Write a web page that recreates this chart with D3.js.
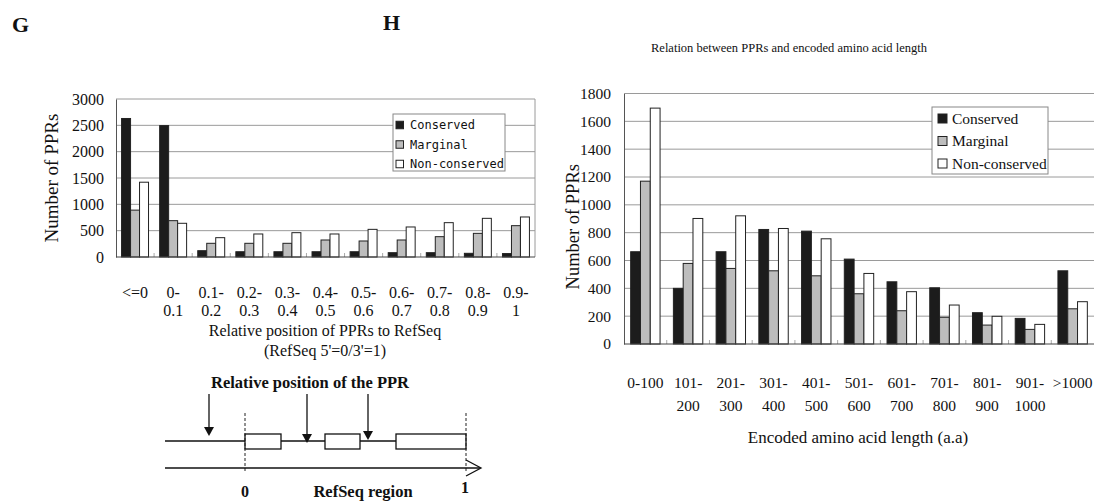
<!DOCTYPE html>
<html>
<head>
<meta charset="utf-8">
<script src="https://cdn.jsdelivr.net/npm/d3@7/dist/d3.min.js"></script>
<style>
  body { margin: 0; background: #fff; }
  svg { display: block; }
  text { font-family: "Liberation Serif", "Times New Roman", serif; fill: #111; }
</style>
</head>
<body>
<svg id="fig" width="1094" height="503"></svg>
<script>
// ---- data ----
var seriesNames = ["Conserved", "Marginal", "Non-conserved"];
var seriesFill = ["#1c1c1c", "#bdbdbd", "#ffffff"];

// panel G: relative position of PPRs
var catsG = ["<=0", "0-0.1", "0.1-0.2", "0.2-0.3", "0.3-0.4", "0.4-0.5", "0.5-0.6", "0.6-0.7", "0.7-0.8", "0.8-0.9", "0.9-1"];
var labelsG = [["<=0"], ["0-", "0.1"], ["0.1-", "0.2"], ["0.2-", "0.3"], ["0.3-", "0.4"], ["0.4-", "0.5"],
               ["0.5-", "0.6"], ["0.6-", "0.7"], ["0.7-", "0.8"], ["0.8-", "0.9"], ["0.9-", "1"]];
var conservedG    = [2630, 2495, 120, 100, 100, 100, 100, 82, 82, 70, 65];
var marginalG     = [890, 690, 260, 260, 260, 323, 304, 323, 386, 449, 595];
var nonconservedG = [1420, 640, 367, 437, 462, 437, 525, 570, 652, 734, 760];
var ticksG = [0, 500, 1000, 1500, 2000, 2500, 3000];

// panel H: encoded amino acid length
var catsH = ["0-100", "101-200", "201-300", "301-400", "401-500", "501-600", "601-700", "701-800", "801-900", "901-1000", ">1000"];
var labelsH = [["0-100"], ["101-", "200"], ["201-", "300"], ["301-", "400"], ["401-", "500"], ["501-", "600"],
               ["601-", "700"], ["701-", "800"], ["801-", "900"], ["901-", "1000"], [">1000"]];
var conservedH    = [663, 400, 663, 823, 811, 610, 447, 404, 225, 184, 526];
var marginalH     = [1170, 579, 543, 526, 490, 361, 239, 192, 136, 105, 253];
var nonconservedH = [1695, 902, 921, 830, 756, 507, 376, 280, 199, 141, 304];
var ticksH = [0, 200, 400, 600, 800, 1000, 1200, 1400, 1600, 1800];

var serif = "'Liberation Serif', 'Times New Roman', serif";
var svg = d3.select("#fig");

function drawPanel(opt) {
  var g = svg.append("g").attr("class", opt.id).attr("font-family", serif);
  var x0 = d3.scaleBand().domain(opt.cats).range([opt.left, opt.right]);
  var x1 = d3.scaleBand().domain(seriesNames).range([0, x0.bandwidth()]).paddingOuter(opt.pad);
  var y = d3.scaleLinear().domain([0, opt.max]).range([opt.bottom, opt.top]);

  // gridlines
  g.selectAll("line.grid")
    .data(opt.ticks.slice(1))
    .enter().append("line")
    .attr("class", "grid")
    .attr("x1", opt.left).attr("x2", opt.right)
    .attr("y1", d => y(d)).attr("y2", d => y(d))
    .style("stroke", "#9a9a9a").style("stroke-width", 1);

  if (opt.frame) {
    g.append("line")
      .attr("x1", opt.right).attr("x2", opt.right)
      .attr("y1", y(opt.max)).attr("y2", opt.bottom)
      .style("stroke", "#9a9a9a");
  }

  // y axis
  var yAxis = d3.axisLeft(y).tickValues(opt.ticks).tickFormat(d3.format("d"))
    .tickSize(0).tickPadding(opt.tickPad);
  var ya = g.append("g").attr("transform", "translate(" + opt.left + ",0)").call(yAxis)
    .attr("font-family", serif).attr("font-size", opt.tickFont);
  ya.select(".domain").style("stroke", "#555");
  ya.selectAll("text").style("fill", "#111");

  // boundary tick marks on x axis
  g.selectAll("line.xt")
    .data(opt.cats.slice(1))
    .enter().append("line")
    .attr("class", "xt")
    .attr("x1", d => x0(d)).attr("x2", d => x0(d))
    .attr("y1", opt.bottom).attr("y2", opt.bottom - 4)
    .style("stroke", "#aaa");

  // bars
  var rows = opt.cats.map(function(c, i) {
    return { cat: c, vals: [opt.s1[i], opt.s2[i], opt.s3[i]] };
  });
  var grp = g.selectAll("g.grp")
    .data(rows)
    .enter().append("g")
    .attr("class", "grp")
    .attr("transform", d => "translate(" + x0(d.cat) + ",0)");
  grp.selectAll("rect")
    .data(d => d.vals.map((v, k) => ({ key: seriesNames[k], k: k, v: v })))
    .enter().append("rect")
    .attr("x", d => x1(d.key))
    .attr("width", x1.bandwidth())
    .attr("y", d => y(d.v))
    .attr("height", d => opt.bottom - y(d.v))
    .attr("fill", d => seriesFill[d.k])
    .style("stroke", "#222")
    .style("stroke-width", 1);

  // x axis line
  g.append("line")
    .attr("x1", opt.left).attr("x2", opt.right)
    .attr("y1", opt.bottom).attr("y2", opt.bottom)
    .style("stroke", "#444");

  // category labels
  var lab = g.selectAll("text.cat")
    .data(opt.labels)
    .enter().append("text")
    .attr("class", "cat")
    .attr("text-anchor", "middle")
    .style("font-family", serif)
    .style("font-size", opt.tickFont + "px")
    .attr("transform", (d, i) => "translate(" + (x0(opt.cats[i]) + x0.bandwidth() / 2) + "," + opt.labY + ")");
  lab.selectAll("tspan")
    .data(d => d)
    .enter().append("tspan")
    .attr("x", 0)
    .attr("y", (d, i) => i * opt.labGap)
    .text(d => d);

  // y label
  g.append("text")
    .attr("text-anchor", "middle")
    .attr("transform", "translate(" + opt.yLabX + "," + ((opt.top + opt.bottom) / 2 + opt.yLabShift) + ") rotate(-90)")
    .style("font-size", opt.yLabFont + "px")
    .text("Number of PPRs");

  // legend
  var lg = g.append("g").attr("transform", "translate(" + opt.leg[0] + "," + opt.leg[1] + ")");
  lg.append("rect")
    .attr("width", opt.leg[2]).attr("height", opt.leg[3])
    .attr("fill", "#fff")
    .style("stroke", "#888");
  seriesNames.forEach(function(name, k) {
    var yy = opt.legRow0 + k * opt.legRowGap;
    lg.append("rect")
      .attr("x", opt.legSq[0]).attr("y", yy - opt.legSq[1] / 2)
      .attr("width", opt.legSq[1]).attr("height", opt.legSq[1])
      .attr("fill", seriesFill[k])
      .style("stroke", "#222");
    lg.append("text")
      .attr("x", opt.legText).attr("y", yy)
      .attr("dy", "0.35em")
      .style("font-family", opt.legFamily)
      .style("font-size", opt.legFont + "px")
      .text(name);
  });
  return { x0: x0, y: y, g: g };
}

// ---- panel G ----
var pG = drawPanel({
  id: "G", cats: catsG, labels: labelsG, s1: conservedG, s2: marginalG, s3: nonconservedG,
  ticks: ticksG, max: 3000, left: 116, right: 535, top: 99, bottom: 257, pad: 0.62, frame: true,
  tickFont: 16, tickPad: 12, labY: 298, labGap: 18, yLabX: 58, yLabFont: 19, yLabShift: 0,
  leg: [393, 114, 112, 57], legRow0: 11, legRowGap: 19.5, legSq: [3, 7.5], legText: 17,
  legFamily: "'DejaVu Sans Mono', monospace", legFont: 12
});

pG.g.append("text")
  .attr("x", 325).attr("y", 336)
  .attr("text-anchor", "middle")
  .style("font-size", "16px")
  .text("Relative position of PPRs to RefSeq");
pG.g.append("text")
  .attr("x", 325).attr("y", 356)
  .attr("text-anchor", "middle")
  .style("font-size", "16px")
  .text("(RefSeq 5'=0/3'=1)");

// ---- panel H ----
var pH = drawPanel({
  id: "H", cats: catsH, labels: labelsH, s1: conservedH, s2: marginalH, s3: nonconservedH,
  ticks: ticksH, max: 1800, left: 624, right: 1094, top: 93.5, bottom: 344, pad: 0.68, frame: false,
  tickFont: 15.5, tickPad: 13, labY: 388, labGap: 23, yLabX: 579, yLabFont: 18.5, yLabShift: 8,
  leg: [932, 107, 116, 67], legRow0: 11.5, legRowGap: 22.5, legSq: [6, 9], legText: 20,
  legFamily: serif, legFont: 15.5
});

pH.g.append("text")
  .attr("x", 858).attr("y", 443)
  .attr("text-anchor", "middle")
  .style("font-size", "17px")
  .text("Encoded amino acid length (a.a)");
pH.g.append("text")
  .attr("x", 789).attr("y", 52)
  .attr("text-anchor", "middle")
  .style("font-size", "12.5px")
  .text("Relation between PPRs and encoded amino acid length");

// ---- panel letters ----
svg.append("text").attr("x", 12).attr("y", 32)
  .style("font-size", "22px").style("font-weight", "bold").text("G");
svg.append("text").attr("x", 383).attr("y", 30)
  .style("font-size", "22px").style("font-weight", "bold").text("H");

// ---- schematic under G ----
var sch = svg.append("g").attr("class", "schematic");
var geneY = 441, axisY = 468;
var exons = [[245, 281], [325, 360], [396, 466]];
var arrowsX = [209, 307, 368];
var arrowTips = [436, 443, 440];

sch.append("text")
  .attr("x", 310).attr("y", 388)
  .attr("text-anchor", "middle")
  .style("font-size", "16.5px").style("font-weight", "bold")
  .text("Relative position of the PPR");

sch.append("line")
  .attr("x1", 165).attr("x2", 466).attr("y1", geneY).attr("y2", geneY)
  .style("stroke", "#111").style("stroke-width", 1.3);
exons.forEach(function(e) {
  sch.append("rect")
    .attr("x", e[0]).attr("y", geneY - 7)
    .attr("width", e[1] - e[0]).attr("height", 15)
    .attr("fill", "#fff").style("stroke", "#111").style("stroke-width", 1.3);
});
[245, 466].forEach(function(xx) {
  sch.append("line")
    .attr("x1", xx).attr("x2", xx).attr("y1", 413).attr("y2", 472)
    .style("stroke", "#222").style("stroke-dasharray", "3,2");
});
arrowsX.forEach(function(xx, i) {
  sch.append("line")
    .attr("x1", xx).attr("x2", xx).attr("y1", 394).attr("y2", arrowTips[i] - 7)
    .style("stroke", "#111").style("stroke-width", 1.3);
  sch.append("path")
    .attr("d", "M" + (xx - 5) + "," + (arrowTips[i] - 9) + "L" + (xx + 5) + "," + (arrowTips[i] - 9) + "L" + xx + "," + arrowTips[i] + "Z")
    .attr("fill", "#111");
});
sch.append("line")
  .attr("x1", 165).attr("x2", 480).attr("y1", axisY).attr("y2", axisY)
  .style("stroke", "#111").style("stroke-width", 1.3);
sch.append("path")
  .attr("d", "M466," + (axisY - 8) + "L481," + axisY + "L466," + (axisY + 8))
  .attr("fill", "none").style("stroke", "#111").style("stroke-width", 1.3);
sch.append("text").attr("x", 245).attr("y", 497).attr("text-anchor", "middle")
  .style("font-size", "16px").style("font-weight", "bold").text("0");
sch.append("text").attr("x", 465).attr("y", 493).attr("text-anchor", "middle")
  .style("font-size", "16px").style("font-weight", "bold").text("1");
sch.append("text").attr("x", 363).attr("y", 497).attr("text-anchor", "middle")
  .style("font-size", "16.5px").style("font-weight", "bold").text("RefSeq region");
</script>
</body>
</html>
